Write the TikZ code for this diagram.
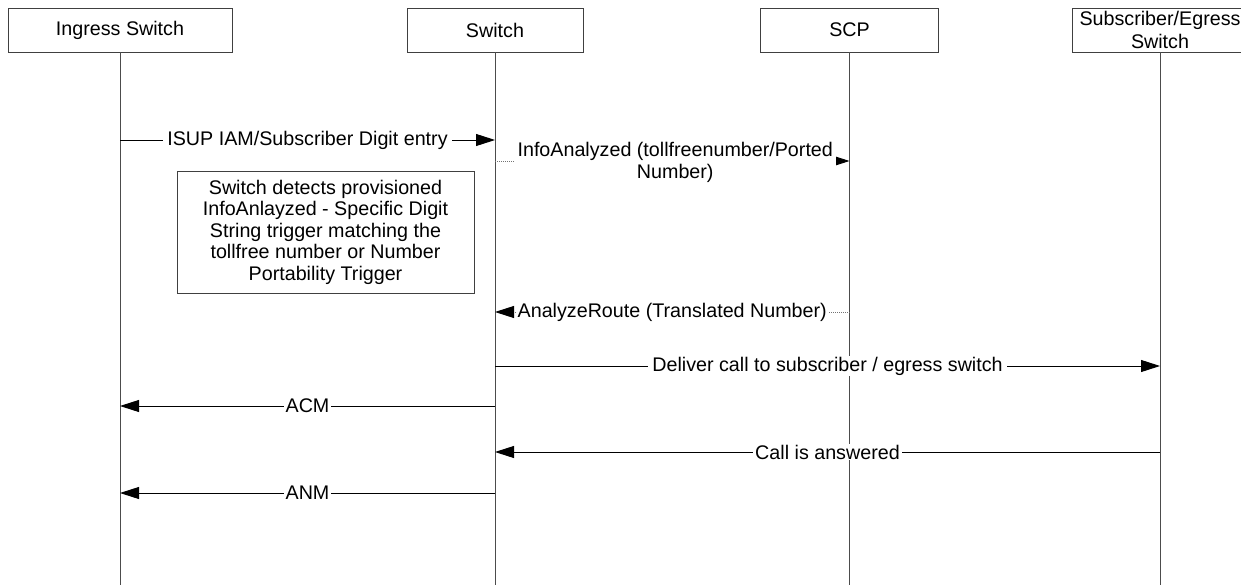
\documentclass[tikz,border=0pt]{standalone}
\usepackage{fontspec}
\setmainfont{Liberation Sans}
\usetikzlibrary{arrows.meta}
\begin{document}
\begin{tikzpicture}[x=1pt,y=-1pt,
  every node/.style={font=\fontsize{19.7}{21.5}\selectfont},
  actor/.style={draw=black!75, line width=0.9pt, minimum height=44pt, inner sep=0pt, align=center, fill=white},
  life/.style={draw=black!70, line width=0.9pt},
  msg/.style={draw=black, line width=0.9pt, -{Triangle[length=19pt,width=12pt,color=black]}},
  tcap/.style={msg, draw=black!55, dash pattern=on 1pt off 1pt},
  lbl/.style={fill=white, inner xsep=4pt, inner ysep=1pt},
  notebox/.style={draw=black!75, line width=0.9pt, align=center, inner sep=0pt}
]
\useasboundingbox (0,0) rectangle (1241,585);
\clip (0,0) rectangle (1241,585);

% participants
\node[actor, minimum width=224pt] (ing) at (120,30) {Ingress Switch};
\node[actor, minimum width=176pt] (sw) at (495,30) {Switch};
\node[actor, minimum width=178pt] (scp) at (849.5,30) {SCP};
\node[actor, minimum width=176pt, font=\fontsize{19.7}{23.5}\selectfont] (egr) at (1160,30) {Subscriber/Egress\\Switch};

% lifelines
\coordinate (bot) at (0,585);
\draw[life] (ing.south) -- (ing.south |- bot);
\draw[life] (sw.south) -- (sw.south |- bot);
\draw[life] (scp.south) -- (scp.south |- bot);
\draw[life] (egr.south) -- (egr.south |- bot);

% message rows
\coordinate (r1) at (0,140);
\coordinate (r2) at (0,161);
\coordinate (r3) at (0,312);
\coordinate (r4) at (0,366);
\coordinate (r5) at (0,406);
\coordinate (r6) at (0,452);
\coordinate (r7) at (0,493);

\draw[msg] (ing |- r1) -- node[lbl]{ISUP IAM/Subscriber Digit entry} (sw |- r1);
\draw[tcap] (sw |- r2) -- node[lbl, align=center, xshift=3pt, inner xsep=3pt, inner ysep=0pt, yshift=-1.5pt]{InfoAnalyzed (tollfreenumber/Ported\\Number)} (scp |- r2);

\node[notebox, minimum width=297pt, minimum height=122pt] (note) at (325.5,232)
  {Switch detects provisioned\\InfoAnlayzed - Specific Digit\\String trigger matching the\\tollfree number or Number\\Portability Trigger};

\draw[tcap] (scp |- r3) -- node[lbl, inner xsep=2pt]{AnalyzeRoute (Translated Number)} (sw |- r3);
\draw[msg] (sw |- r4) -- node[lbl]{Deliver call to subscriber / egress switch} (egr |- r4);
\draw[msg] (sw |- r5) -- node[lbl, inner xsep=2pt]{ACM} (ing |- r5);
\draw[msg] (egr |- r6) -- node[lbl, inner xsep=2pt]{Call is answered} (sw |- r6);
\draw[msg] (sw |- r7) -- node[lbl, inner xsep=2pt]{ANM} (ing |- r7);
\end{tikzpicture}
\end{document}
